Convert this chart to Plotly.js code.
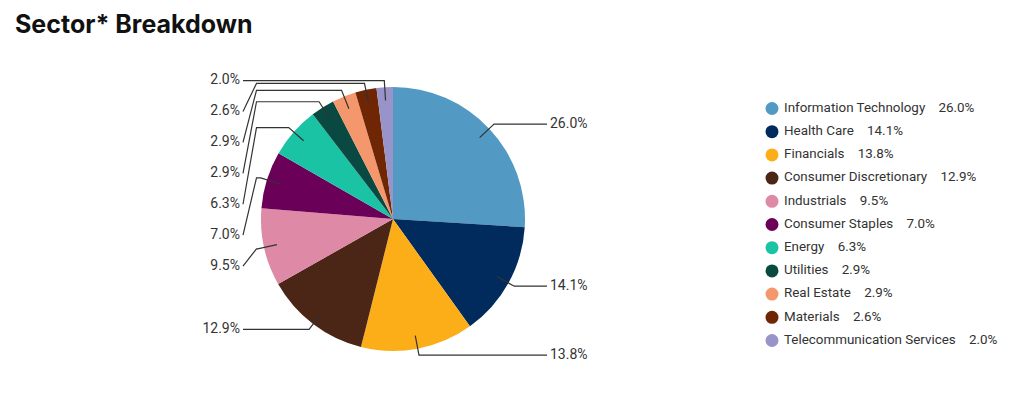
<!DOCTYPE html>
<html><head><meta charset="utf-8">
<script src="https://cdn.plot.ly/plotly-3.0.1.min.js"></script>
<style>html,body{margin:0;padding:0;background:#fff}#chart{width:1024px;height:395px}</style>
</head><body><div id="chart"></div>
<script>
// ---- data ----
const sectors = ['Information Technology','Health Care','Financials','Consumer Discretionary','Industrials','Consumer Staples','Energy','Utilities','Real Estate','Materials','Telecommunication Services'];
const weights = [26.0,14.1,13.8,12.9,9.5,7.0,6.3,2.9,2.9,2.6,2.0];
const sectorColors = ['#5299C3','#002B5C','#FCAE18','#4B2516','#DE8AA7','#6B0058','#1BC3A5','#0A4941','#F4976C','#6E2604','#9893C8'];
const titleText = 'Sector* Breakdown';

// ---- layout constants (pixels) ----
const W=1024,H=395,CX=393,CY=219,R=132;
const INNER=0.9, ELBOW=1.05;
const COL_X=256.5, COL_LABEL_X=240, COL_STEP=30.9;
const RIGHT_END=CX+R+22, LEFT_END=CX-R-18;
const LEG_X=772, LEG_TEXT_X=784, LEG_TOP=108.5, LEG_STEP=23.2;
const FONT='Roboto, "Open Sans", sans-serif';
const TITLE_FONT='Inter, Roboto, sans-serif';
const TXT='#333333', LINE='#333333';

const fmt = v => v.toFixed(1)+'%';
const total = weights.reduce((a,b)=>a+b,0);
const pt = (ang,r)=>[CX+r*Math.sin(ang), CY-r*Math.cos(ang)];

let cum=0;
const slices = weights.map((w,i)=>{
  const mid=(cum+w/2)/total*2*Math.PI; cum+=w;
  return {i, w, mid, A:pt(mid,R*INNER), B:pt(mid,R*ELBOW)};
});

const shapes=[];
const lab = {right:{x:[],y:[],t:[]}, left:{x:[],y:[],t:[]}};
const colSlices = slices.filter(s=>s.mid>4*Math.PI/3).sort((a,b)=>a.B[1]-b.B[1]);
const colTop = colSlices.length?colSlices[0].B[1]:0;
colSlices.forEach((s,k)=>{
  const ly = colTop + k*COL_STEP;
  s.path = `M${s.A[0]},${s.A[1]} L${s.B[0]},${s.B[1]} L${Math.min(COL_X,s.B[0])},${s.B[1]} L${COL_LABEL_X+3},${ly}`;
  lab.left.x.push(COL_LABEL_X); lab.left.y.push(ly); lab.left.t.push(fmt(s.w));
});
slices.forEach(s=>{
  if(s.path) return;
  if(Math.sin(s.mid)>=0){
    s.path = `M${s.A[0]},${s.A[1]} L${s.B[0]},${s.B[1]} L${RIGHT_END},${s.B[1]}`;
    lab.right.x.push(RIGHT_END+3); lab.right.y.push(s.B[1]); lab.right.t.push(fmt(s.w));
  } else {
    s.path = `M${s.A[0]},${s.A[1]} L${s.B[0]},${s.B[1]} L${LEFT_END},${s.B[1]}`;
    lab.left.x.push(LEFT_END-3); lab.left.y.push(s.B[1]); lab.left.t.push(fmt(s.w));
  }
});
slices.forEach(s=>shapes.push({type:'path',xref:'x',yref:'y',layer:'above',path:s.path,line:{color:LINE,width:1.2}}));

const traces=[
  {type:'pie', labels:sectors, values:weights, sort:false, direction:'clockwise', rotation:0,
   marker:{colors:sectorColors, line:{width:0}}, textinfo:'none', showlegend:false,
   domain:{x:[(CX-R)/W,(CX+R)/W], y:[(H-CY-R)/H,(H-CY+R)/H]}},
  {type:'scatter', mode:'text', x:lab.right.x, y:lab.right.y, text:lab.right.t, textposition:'middle right',
   textfont:{family:FONT,size:14,color:TXT}, showlegend:false, hoverinfo:'skip'},
  {type:'scatter', mode:'text', x:lab.left.x, y:lab.left.y, text:lab.left.t, textposition:'middle left',
   textfont:{family:FONT,size:14,color:TXT}, showlegend:false, hoverinfo:'skip'},
  {type:'scatter', mode:'markers', x:sectors.map(()=>LEG_X), y:sectors.map((_,i)=>LEG_TOP+i*LEG_STEP),
   marker:{color:sectorColors,size:13,line:{width:0}}, showlegend:false, hoverinfo:'skip'},
  {type:'scatter', mode:'text', x:sectors.map(()=>LEG_TEXT_X), y:sectors.map((_,i)=>LEG_TOP+i*LEG_STEP),
   text:sectors.map((s,i)=>s+'\u00a0\u00a0\u00a0\u00a0'+fmt(weights[i])), textposition:'middle right',
   textfont:{family:FONT,size:13.4,color:TXT}, showlegend:false, hoverinfo:'skip'}
];

const layout={
  width:W, height:H, autosize:false, margin:{l:0,r:0,t:0,b:0,pad:0},
  paper_bgcolor:'#fff', plot_bgcolor:'rgba(0,0,0,0)', showlegend:false,
  title:{text:'<b>'+titleText+'</b>', x:15/W, xanchor:'left', xref:'paper', y:1-24.5/H, yanchor:'middle', yref:'container',
    font:{family:TITLE_FONT,size:25,color:'#111111'}},
  xaxis:{range:[0,W], visible:false, fixedrange:true},
  yaxis:{range:[H,0], visible:false, fixedrange:true},
  shapes
};
Plotly.newPlot('chart',traces,layout,{staticPlot:true,displayModeBar:false});
</script></body></html>
